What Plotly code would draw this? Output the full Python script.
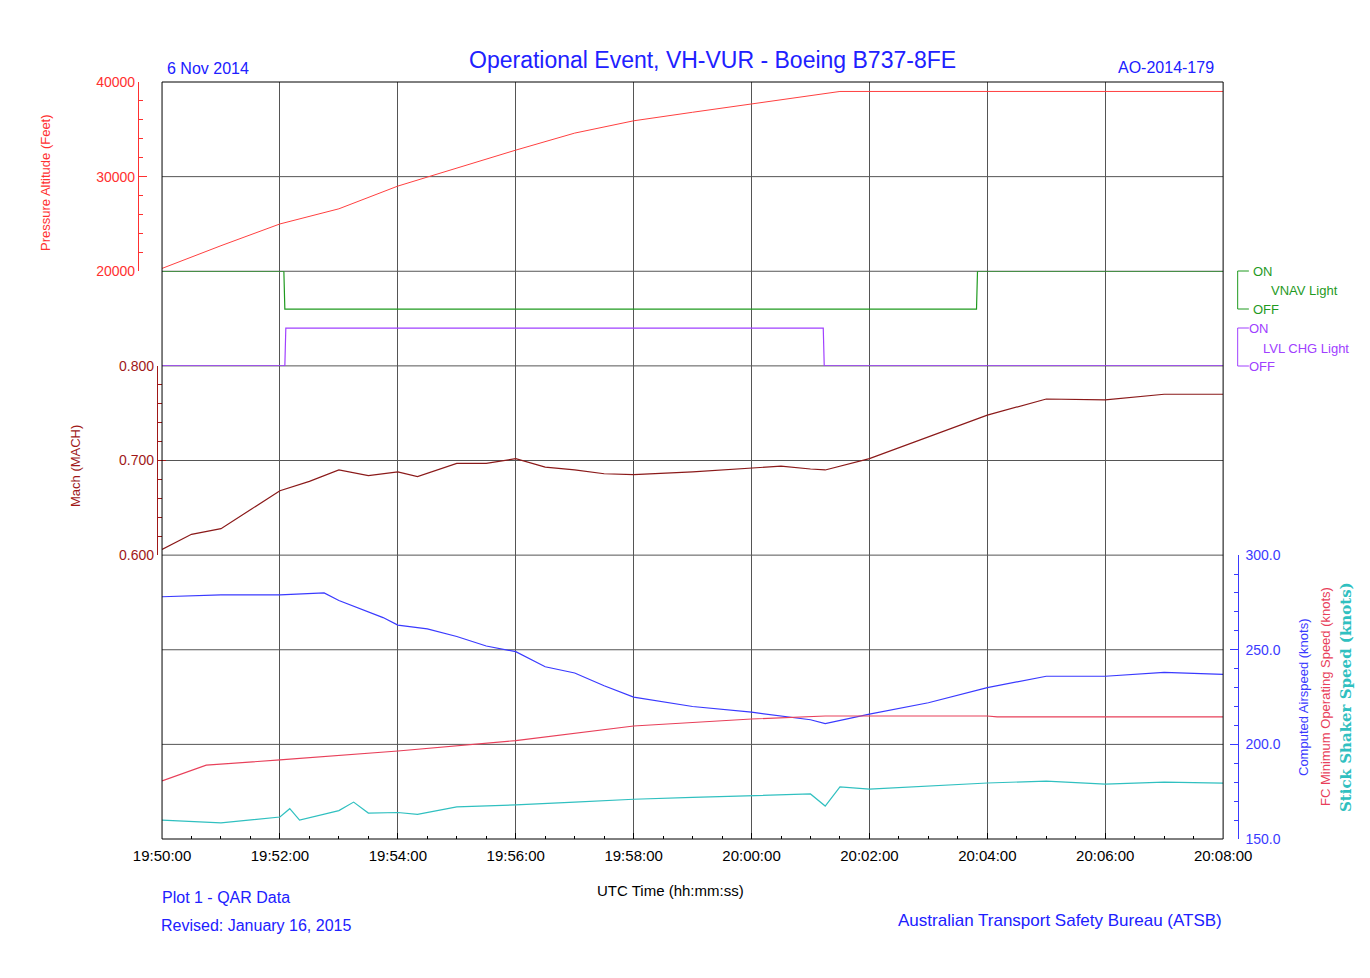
import plotly.graph_objects as go

D = "2014-11-06 "
alt_t = ["19:50:00","19:51:00","19:52:00","19:53:00","19:54:00","19:55:00","19:56:00","19:57:00","19:58:00","19:59:00","20:00:00","20:01:00","20:01:30","20:08:00"]
alt_v = [20300,22700,25000,26600,29000,30900,32800,34600,35900,36800,37700,38600,39000,39000]

vnav_t = ["19:50:00","19:52:04","19:52:05","20:03:49","20:03:50","20:08:00"]
vnav_v = [1,1,0,0,1,1]
lvl_t = ["19:50:00","19:52:05","19:52:06","20:01:13","20:01:14","20:08:00"]
lvl_v = [0,0,1,1,0,0]

mach_t = ["19:50:00","19:50:30","19:51:00","19:51:30","19:52:00","19:52:30","19:53:00","19:53:30","19:54:00","19:54:20","19:55:00","19:55:30","19:56:00","19:56:30","19:57:00","19:57:30","19:58:00","19:59:00","20:00:00","20:00:30","20:01:00","20:01:15","20:02:00","20:03:00","20:04:00","20:05:00","20:06:00","20:07:00","20:08:00"]
mach_v = [0.606,0.622,0.628,0.648,0.668,0.678,0.690,0.684,0.688,0.683,0.697,0.697,0.702,0.693,0.690,0.686,0.685,0.688,0.692,0.694,0.691,0.690,0.702,0.725,0.748,0.765,0.764,0.770,0.770]

cas_t = ["19:50:00","19:51:00","19:52:00","19:52:45","19:53:00","19:53:45","19:54:00","19:54:30","19:55:00","19:55:30","19:56:00","19:56:30","19:57:00","19:57:30","19:58:00","19:59:00","20:00:00","20:00:30","20:01:00","20:01:15","20:02:00","20:03:00","20:04:00","20:05:00","20:06:00","20:07:00","20:08:00"]
cas_v = [278,279,279,280,276,267,263,261,257,252,249,241,237.7,231,225,220,217,215,213,211,216,222,230,236,236,238,237]

fc_t = ["19:50:00","19:50:45","19:52:00","19:54:00","19:56:00","19:58:00","20:00:00","20:01:15","20:04:00","20:04:10","20:08:00"]
fc_v = [180.7,189,191.8,196.5,202,209.7,213.4,215,215,214.5,214.5]

ss_t = ["19:50:00","19:51:00","19:52:00","19:52:10","19:52:20","19:53:00","19:53:15","19:53:30","19:54:00","19:54:20","19:55:00","19:56:00","19:57:00","19:58:00","19:59:00","20:00:00","20:01:00","20:01:15","20:01:30","20:02:00","20:03:00","20:04:00","20:05:00","20:06:00","20:07:00","20:08:00"]
ss_v = [160,158.5,161.6,166,160,165,169.5,163.7,164,163,167,168,169.5,171,172,173,173.8,167.4,177.5,176.4,178,179.6,180.6,179,180,179.5]

def T(a): return [D + s for s in a]

FONT = "Liberation Sans, Arial"
fig = go.Figure()
def L(x, y, ax, color, w=1.2):
    fig.add_trace(go.Scatter(x=T(x), y=y, yaxis=ax, mode="lines", line=dict(color=color, width=w)))
L(alt_t, alt_v, "y", "#ff4040", 1)
L(vnav_t, vnav_v, "y2", "#1f9a1f")
L(lvl_t, lvl_v, "y3", "#a040ff")
L(mach_t, mach_v, "y4", "#8b1a1a")
L(cas_t, cas_v, "y5", "#3a3aff")
L(fc_t, fc_v, "y5", "#e8405a")
L(ss_t, ss_v, "y5", "#30c0c0")

O = 8  # page offset
x0, x1 = 0.0286, 0.976
fig.update_layout(
    width=1370, height=978, showlegend=False, plot_bgcolor="white", paper_bgcolor="white",
    margin=dict(l=130-O, r=120+O, t=82-O, b=139+O, autoexpand=False), font=dict(family=FONT),
    xaxis=dict(domain=[x0, x1], anchor="y5", type="date", range=[D+"19:50:00", D+"20:08:00"], dtick=120000,
               tickformat="%H:%M:%S", showgrid=True, gridcolor="#555", gridwidth=1, ticklabelstandoff=6,
               ticks="inside", ticklen=6, tickcolor="black", tickfont=dict(size=15, color="black"),
               minor=dict(dtick=30000, ticks="inside", ticklen=3, tickcolor="black"), zeroline=False),
    yaxis=dict(domain=[0.75, 1], range=[20000, 40000], dtick=10000, tickformat="d", anchor="free", position=0.0071,
               showline=True, linecolor="#ff3030", ticks="inside", tickcolor="#ff3030", ticklen=8,
               tickfont=dict(color="#ff3030", size=14), showgrid=False, zeroline=False,
               minor=dict(dtick=2000, ticks="inside", ticklen=4, tickcolor="#ff3030")),
    yaxis2=dict(domain=[0.625, 0.75], range=[-1.5, 1], visible=False, anchor="x"),
    yaxis3=dict(range=[0, 2.5], visible=False, overlaying="y2", anchor="x"),
    yaxis4=dict(domain=[0.375, 0.625], range=[0.6, 0.8], dtick=0.1, tickformat=".3f", anchor="free", position=0.024,
                showline=True, linecolor="#a01818", ticks="inside", tickcolor="#a01818", ticklen=8,
                tickfont=dict(color="#a01818", size=14), showgrid=False, zeroline=False,
                minor=dict(dtick=0.02, ticks="inside", ticklen=4, tickcolor="#a01818")),
    yaxis5=dict(domain=[0, 0.375], range=[150, 300], dtick=50, tickformat=".1f", anchor="free", position=0.989,
                side="right", showline=True, linecolor="#3a3aff", ticks="inside", tickcolor="#3a3aff", ticklen=8,
                tickfont=dict(color="#3a3aff", size=14), showgrid=False, zeroline=False, ticklabelstandoff=4,
                minor=dict(dtick=10, ticks="inside", ticklen=4, tickcolor="#3a3aff")),
)
shapes = [dict(type="rect", xref="x domain", yref="paper", x0=0, x1=1, y0=0, y1=1, line=dict(color="black", width=1), layer="above")]
for k in range(1, 8):
    shapes.append(dict(type="line", xref="x domain", yref="paper", x0=0, x1=1, y0=k/8, y1=k/8, line=dict(color="#555", width=1), layer="below"))
bx = 0.989
def bracket(ytop, ybot, color):
    return [dict(type="line", xref="paper", yref="paper", x0=bx, x1=bx, y0=ybot, y1=ytop, line=dict(color=color, width=1)),
            dict(type="line", xref="paper", yref="paper", x0=bx, x1=bx+0.01, y0=ytop, y1=ytop, line=dict(color=color, width=1)),
            dict(type="line", xref="paper", yref="paper", x0=bx, x1=bx+0.01, y0=ybot, y1=ybot, line=dict(color=color, width=1))]
def py(pix): return (839 - pix) / 757
shapes += bracket(py(271), py(309), "#1f9a1f") + bracket(py(328), py(366), "#a040ff")
fig.update_layout(shapes=shapes)

ann = []
def A(x, y, text, color, size=14, xa="center", ya="middle", angle=0, family=FONT):
    ann.append(dict(x=x, y=y, xref="paper", yref="paper", text=text, showarrow=False, xanchor=xa, yanchor=ya,
                    textangle=angle, font=dict(color=color, size=size, family=family)))
def px(p): return (p - 130) / 1120
A(px(712), py(60), "Operational Event, VH-VUR - Boeing B737-8FE", "#2020ff", 23)
A(px(165), py(69), "6 Nov 2014", "#2020ff", 16, xa="left")
A(px(1216), py(67), "AO-2014-179", "#2020ff", 16, xa="right")
A(px(160), py(897), "Plot 1 - QAR Data", "#2020ff", 16, xa="left")
A(px(159), py(926), "Revised: January 16, 2015", "#2020ff", 16, xa="left")
A(px(670), py(890), "UTC Time (hh:mm:ss)", "black", 15)
A(px(1060), py(920), "Australian Transport Safety Bureau (ATSB)", "#2020ff", 17)
A(px(45), py(183), "Pressure Altitude (Feet)", "#ff3030", 13, angle=-90)
A(px(75), py(466), "Mach (MACH)", "#a01818", 13, angle=-90)
A(px(1303), py(697), "Computed Airspeed (knots)", "#3a3aff", 13, angle=-90)
A(px(1325), py(697), "FC Minimum Operating Speed (knots)", "#e8405a", 13, angle=-90)
A(px(1346), py(697), "<b>Stick Shaker Speed (knots)</b>", "#30c0c0", 15, angle=-90, family="DejaVu Serif")
A(px(1251), py(271), "ON", "#1f9a1f", 13, xa="left")
A(px(1251), py(309), "OFF", "#1f9a1f", 13, xa="left")
A(px(1269), py(290), "VNAV Light", "#1f9a1f", 13, xa="left")
A(px(1247), py(328), "ON", "#a040ff", 13, xa="left")
A(px(1247), py(366), "OFF", "#a040ff", 13, xa="left")
A(px(1261), py(348), "LVL CHG Light", "#a040ff", 13, xa="left")
fig.update_layout(annotations=ann)
fig.write_html("out.html")
